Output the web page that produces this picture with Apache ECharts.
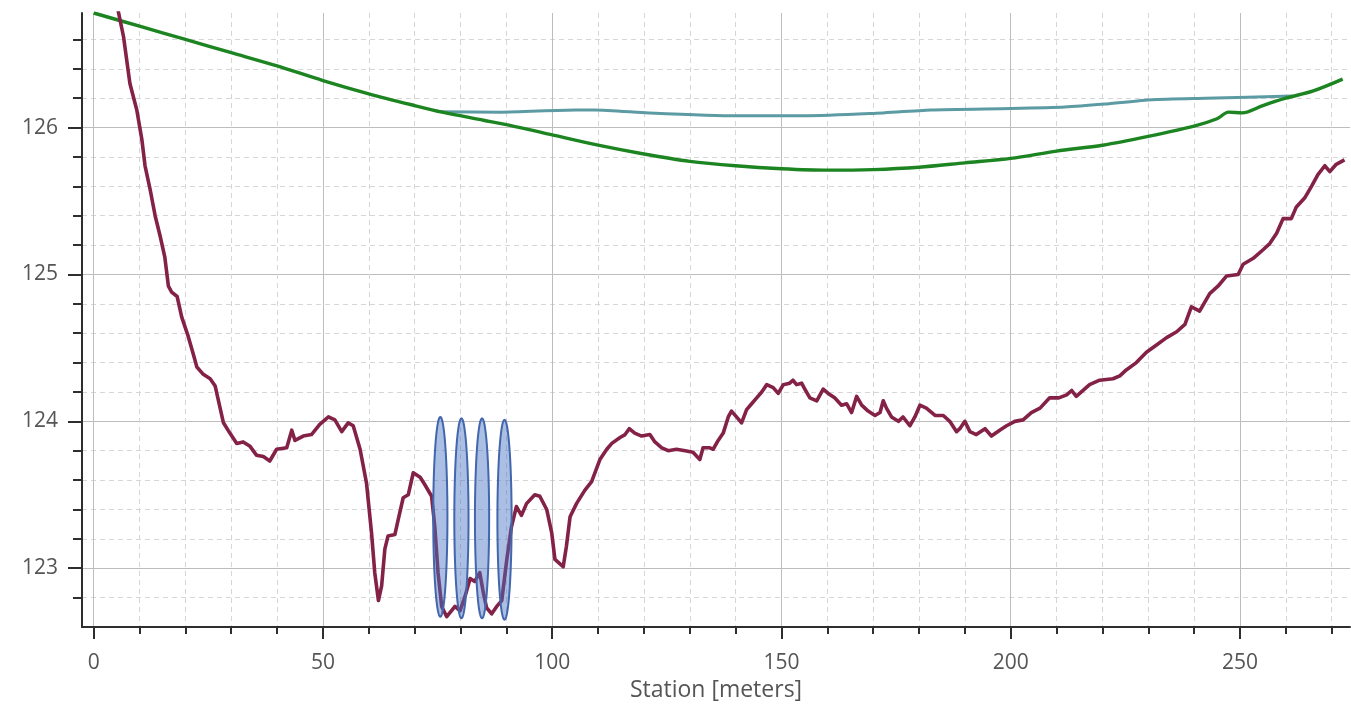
<!DOCTYPE html>
<html>
<head>
<meta charset="utf-8">
<script src="https://cdn.jsdelivr.net/npm/echarts@6/dist/echarts.min.js"></script>
<style>
  html, body { margin: 0; padding: 0; background: #ffffff; }
  #chart { width: 1351px; height: 714px; }
</style>
</head>
<body>
<div id="chart"></div>
<script>
// Cross-section profile along the reach: channel bed, energy grade line and water surface.

// Axis ticks
const stationMajorTicks = [0, 50, 100, 150, 200, 250];
const stationMinorTicks = [10, 20, 30, 40, 60, 70, 80, 90, 110, 120, 130, 140, 160, 170, 180, 190,
  210, 220, 230, 240, 260, 270];
const elevMajorTicks = [123, 124, 125, 126];
const elevMinorTicks = [122.8, 123.2, 123.4, 123.6, 123.8, 124.2, 124.4, 124.6, 124.8,
  125.2, 125.4, 125.6, 125.8, 126.2, 126.4, 126.6];

// Channel bed (station m, elevation m)
const bedStation = [5.3, 6.5, 7.9, 9.4, 10.5, 11.2, 12.3, 13.4, 14.5, 15.5, 16.3, 17.0, 18.2, 19.2,
  20.6, 21.7, 22.5, 23.9, 25.4, 26.5, 27.5, 28.3, 29.7, 31.2, 32.6, 34.1, 35.5, 37.0, 38.4, 39.9,
  42.1, 43.2, 43.9, 45.7, 47.5, 49.3, 51.2, 52.6, 54.1, 55.5, 56.6, 58.1, 59.5, 60.6, 61.3, 62.1,
  62.8, 63.5, 64.2, 65.7, 66.4, 67.5, 68.6, 69.7, 71.2, 72.2, 73.7, 74.4, 75.1, 75.9, 77.0, 78.8,
  79.9, 81.0, 82.1, 83.1, 84.2, 85.0, 85.7, 86.8, 87.9, 89.0, 90.1, 91.1, 92.2, 93.3, 94.4, 96.2,
  97.3, 98.8, 99.9, 100.6, 101.7, 102.4, 103.1, 103.9, 105.3, 107.1, 108.6, 110.4, 111.9, 113.0,
  114.8, 115.9, 116.8, 118.0, 119.5, 121.3, 122.4, 123.9, 125.3, 127.1, 129.0, 130.7, 132.2, 132.9,
  134.4, 135.1, 136.2, 137.3, 138.4, 139.1, 140.2, 141.3, 142.4, 143.5, 144.6, 145.7, 146.8, 148.2,
  149.3, 150.4, 151.8, 152.5, 153.3, 154.4, 155.1, 156.2, 157.7, 159.1, 160.2, 161.6, 163.1, 164.2,
  165.3, 166.4, 167.5, 168.9, 170.4, 171.5, 172.2, 172.9, 174.0, 175.5, 176.5, 178.0, 179.1, 180.2,
  181.6, 183.5, 185.3, 186.7, 188.2, 188.9, 190.0, 191.1, 192.5, 194.4, 195.8, 197.6, 199.1, 200.9,
  202.7, 204.5, 206.4, 208.5, 210.5, 212.2, 213.3, 214.3, 217.2, 219.4, 222.3, 223.8, 225.2, 227.4,
  229.6, 231.8, 234.0, 236.2, 238.0, 239.4, 241.2, 243.4, 245.2, 247.1, 249.6, 250.7, 252.9, 255.1,
  256.5, 258.0, 259.4, 261.2, 262.3, 264.1, 265.6, 267.0, 268.5, 269.6, 271.0, 272.8];
const bedElev = [126.80, 126.62, 126.30, 126.12, 125.92, 125.74, 125.58, 125.40, 125.26, 125.12,
  124.92, 124.88, 124.85, 124.71, 124.58, 124.46, 124.37, 124.32, 124.29, 124.24, 124.10, 123.99,
  123.92, 123.85, 123.86, 123.83, 123.77, 123.76, 123.73, 123.81, 123.82, 123.94, 123.87, 123.90,
  123.91, 123.98, 124.03, 124.01, 123.93, 123.99, 123.97, 123.81, 123.58, 123.24, 122.97, 122.78,
  122.88, 123.13, 123.22, 123.23, 123.33, 123.48, 123.50, 123.65, 123.62, 123.57, 123.49, 123.28,
  122.97, 122.74, 122.67, 122.74, 122.71, 122.81, 122.93, 122.91, 122.97, 122.83, 122.73, 122.69,
  122.74, 122.78, 123.06, 123.28, 123.42, 123.36, 123.44, 123.50, 123.49, 123.40, 123.24, 123.06,
  123.03, 123.01, 123.15, 123.35, 123.44, 123.53, 123.59, 123.74, 123.81, 123.85, 123.89, 123.91,
  123.95, 123.92, 123.90, 123.91, 123.86, 123.82, 123.80, 123.81, 123.80, 123.79, 123.74, 123.82,
  123.82, 123.81, 123.87, 123.92, 124.03, 124.07, 124.03, 123.99, 124.08, 124.12, 124.16, 124.20,
  124.25, 124.23, 124.19, 124.25, 124.26, 124.28, 124.25, 124.26, 124.22, 124.16, 124.14, 124.22,
  124.19, 124.16, 124.11, 124.12, 124.06, 124.17, 124.11, 124.07, 124.04, 124.06, 124.14, 124.09,
  124.03, 124.00, 124.03, 123.97, 124.03, 124.11, 124.09, 124.04, 124.04, 124.00, 123.93, 123.95,
  124.00, 123.93, 123.91, 123.95, 123.90, 123.94, 123.97, 124.00, 124.01, 124.06, 124.09, 124.16,
  124.16, 124.18, 124.21, 124.17, 124.25, 124.28, 124.29, 124.31, 124.35, 124.40, 124.47, 124.52,
  124.57, 124.61, 124.66, 124.78, 124.75, 124.87, 124.92, 124.99, 125.00, 125.07, 125.11, 125.17,
  125.21, 125.28, 125.38, 125.38, 125.46, 125.52, 125.60, 125.68, 125.74, 125.70, 125.75, 125.78];

// Energy grade line
const egStation = [0, 10, 20, 30, 40, 50, 60, 70, 76, 85, 93, 100, 110, 120, 130, 140, 150, 160,
  170, 180, 190, 200, 210, 220, 230, 240, 245, 247.5, 250.5, 255, 260, 266, 272.4];
const egElev = [126.78, 126.69, 126.60, 126.51, 126.42, 126.32, 126.23, 126.15, 126.105, 126.05,
  126.00, 125.95, 125.88, 125.82, 125.77, 125.74, 125.72, 125.71, 125.714, 125.73, 125.76, 125.79,
  125.84, 125.88, 125.94, 126.01, 126.06, 126.105, 126.10, 126.15, 126.20, 126.25, 126.33];

// Water surface
const wsStation = [75.7, 88.8, 105.0, 109.4, 121.0, 140.0, 154.7, 169.3, 182.6, 200.0, 211.8,
  220.5, 230.8, 242.5, 261.5];
const wsElev = [126.107, 126.105, 126.12, 126.12, 126.10, 126.08, 126.08, 126.095, 126.12, 126.13,
  126.14, 126.16, 126.19, 126.20, 126.215];

// Highlighted verticals: station, upper and lower elevation
const markStation = [75.6, 80.2, 84.7, 89.6];
const markTop = [124.03, 124.02, 124.02, 124.01];
const markBottom = [122.67, 122.66, 122.66, 122.65];
const markHalfWidth = 1.55;

const zip = (a, b) => a.map((v, i) => [v, b[i]]);

const axisColor = '#2e2e2e';
const labelColor = '#555555';
const fontFamily = '"Open Sans", "Noto Sans", sans-serif';

const chart = echarts.init(document.getElementById('chart'), null, { renderer: 'canvas' });

chart.setOption({
  animation: false,
  backgroundColor: '#ffffff',
  grid: { left: 82, right: 1, top: 13, bottom: 87, containLabel: false },
  xAxis: [
    {
      type: 'value', position: 'bottom', min: -2.55, max: 274,
      axisLine: { show: true, onZero: false, lineStyle: { color: axisColor, width: 2 } },
      axisTick: { show: true, customValues: stationMinorTicks, length: 7, lineStyle: { color: axisColor, width: 2 } },
      axisLabel: { show: false },
      splitLine: { show: true, lineStyle: { color: '#d6d6d6', width: 1, type: [5, 4] } }
    },
    {
      type: 'value', position: 'bottom', min: -2.55, max: 274,
      axisLine: { show: false, onZero: false },
      axisTick: { show: true, customValues: stationMajorTicks, length: 12, lineStyle: { color: axisColor, width: 2 } },
      axisLabel: { show: true, customValues: stationMajorTicks, margin: 26, fontSize: 21, color: labelColor, fontFamily: fontFamily },
      splitLine: { show: true, lineStyle: { color: '#bdbdbd', width: 1 } },
      name: 'Station [meters]', nameLocation: 'middle', nameGap: 52,
      nameTextStyle: { fontSize: 23, color: labelColor, fontFamily: fontFamily }
    }
  ],
  yAxis: [
    {
      type: 'value', position: 'left', min: 122.6, max: 126.78,
      axisLine: { show: true, onZero: false, lineStyle: { color: axisColor, width: 2 } },
      axisTick: { show: true, customValues: elevMinorTicks, length: 9, lineStyle: { color: axisColor, width: 2 } },
      axisLabel: { show: false },
      splitLine: { show: true, lineStyle: { color: '#d6d6d6', width: 1, type: [5, 4] } }
    },
    {
      type: 'value', position: 'left', min: 122.6, max: 126.78,
      axisLine: { show: false, onZero: false },
      axisTick: { show: true, customValues: elevMajorTicks, length: 14, lineStyle: { color: axisColor, width: 2 } },
      axisLabel: { show: true, customValues: elevMajorTicks, margin: 24, fontSize: 21, color: labelColor, fontFamily: fontFamily },
      splitLine: { show: true, lineStyle: { color: '#bdbdbd', width: 1 } }
    }
  ],
  series: [
    {
      name: 'WS', type: 'line', xAxisIndex: 0, yAxisIndex: 0,
      data: zip(wsStation, wsElev), showSymbol: false, smooth: 0.2,
      lineStyle: { color: '#5c9ba3', width: 3 }, z: 3
    },
    {
      name: 'EG', type: 'line', xAxisIndex: 0, yAxisIndex: 0,
      data: zip(egStation, egElev), showSymbol: false, smooth: 0.3,
      lineStyle: { color: '#1c8420', width: 3.4 }, z: 4
    },
    {
      name: 'Ground', type: 'line', xAxisIndex: 0, yAxisIndex: 0,
      data: zip(bedStation, bedElev), showSymbol: false, smooth: false,
      lineStyle: { color: '#842146', width: 3.6, join: 'round' }, z: 5
    },
    {
      name: 'Marks', type: 'custom', xAxisIndex: 0, yAxisIndex: 0, z: 6,
      data: markStation.map((s, i) => [s, markTop[i], markBottom[i]]),
      encode: { x: 0, y: [1, 2] },
      renderItem: function (params, api) {
        const s = api.value(0);
        const pTop = api.coord([s, api.value(1)]);
        const pBot = api.coord([s, api.value(2)]);
        const rx = api.size([markHalfWidth, 0])[0];
        const cx = pTop[0];
        const cy = (pTop[1] + pBot[1]) / 2;
        const ry = (pBot[1] - pTop[1]) / 2;
        const pts = [];
        for (let k = 0; k < 120; k++) {
          const a = (k / 120) * Math.PI * 2;
          pts.push([cx + rx * Math.cos(a), cy + ry * Math.sin(a)]);
        }
        return {
          type: 'polygon',
          shape: { points: pts },
          style: { fill: 'rgba(68,114,196,0.45)', stroke: '#4267ac', lineWidth: 2 }
        };
      }
    }
  ]
});
</script>
</body>
</html>
